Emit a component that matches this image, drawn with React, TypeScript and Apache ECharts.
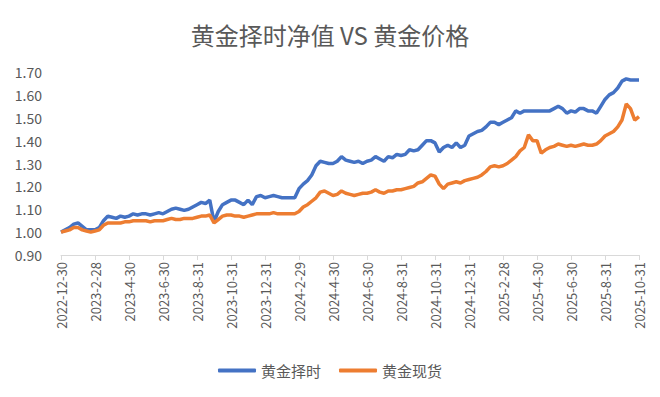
import React, { useEffect, useRef } from "react";
import * as echarts from "echarts";

const titleText = "黄金择时净值 VS 黄金价格";
const seriesNames = ["黄金择时", "黄金现货"];

const tickLabels = [
  "2022-12-30", "2023-2-28", "2023-4-30", "2023-6-30", "2023-8-31", "2023-10-31",
  "2023-12-31", "2024-2-29", "2024-4-30", "2024-6-30", "2024-8-31", "2024-10-31",
  "2024-12-31", "2025-2-28", "2025-4-30", "2025-6-30", "2025-8-31", "2025-10-31",
];
const pointsPerTick = 8;

const timingNav = [
  1.00, 1.01, 1.02, 1.035, 1.04, 1.025, 1.01, 1.01, 1.01, 1.02,
  1.05, 1.07, 1.065, 1.06, 1.07, 1.065, 1.07, 1.08, 1.075, 1.08,
  1.08, 1.075, 1.08, 1.085, 1.08, 1.09, 1.10, 1.105, 1.10, 1.095,
  1.10, 1.11, 1.12, 1.13, 1.125, 1.14, 1.045, 1.09, 1.12, 1.13,
  1.14, 1.14, 1.13, 1.12, 1.14, 1.12, 1.155, 1.16, 1.15, 1.155,
  1.16, 1.155, 1.15, 1.15, 1.15, 1.15, 1.19, 1.21, 1.225, 1.25,
  1.29, 1.31, 1.305, 1.30, 1.30, 1.31, 1.33, 1.315, 1.31, 1.305,
  1.31, 1.30, 1.31, 1.315, 1.33, 1.32, 1.31, 1.33, 1.325, 1.34,
  1.335, 1.34, 1.36, 1.355, 1.36, 1.38, 1.40, 1.40, 1.39, 1.35,
  1.37, 1.38, 1.37, 1.39, 1.37, 1.38, 1.42, 1.43, 1.44, 1.445,
  1.46, 1.48, 1.48, 1.47, 1.48, 1.49, 1.50, 1.53, 1.52, 1.53,
  1.53, 1.53, 1.53, 1.53, 1.53, 1.53, 1.54, 1.55, 1.54, 1.52,
  1.53, 1.525, 1.54, 1.54, 1.53, 1.53, 1.52, 1.55, 1.58, 1.60,
  1.61, 1.63, 1.66, 1.67, 1.665, 1.665, 1.665,
];

const goldSpot = [
  1.00, 1.005, 1.01, 1.02, 1.02, 1.01, 1.005, 1.00, 1.005, 1.01,
  1.03, 1.04, 1.04, 1.04, 1.04, 1.045, 1.045, 1.05, 1.05, 1.05,
  1.05, 1.045, 1.05, 1.05, 1.05, 1.055, 1.06, 1.055, 1.055, 1.06,
  1.06, 1.06, 1.065, 1.07, 1.07, 1.075, 1.04, 1.055, 1.07, 1.075,
  1.075, 1.07, 1.07, 1.065, 1.07, 1.075, 1.08, 1.08, 1.08, 1.08,
  1.085, 1.08, 1.08, 1.08, 1.08, 1.08, 1.09, 1.11, 1.12, 1.135,
  1.15, 1.175, 1.18, 1.17, 1.16, 1.165, 1.18, 1.17, 1.165, 1.16,
  1.165, 1.17, 1.17, 1.175, 1.185, 1.175, 1.17, 1.18, 1.18, 1.185,
  1.185, 1.19, 1.195, 1.20, 1.215, 1.22, 1.235, 1.25, 1.245, 1.21,
  1.19, 1.21, 1.215, 1.22, 1.215, 1.225, 1.23, 1.235, 1.24, 1.25,
  1.265, 1.285, 1.29, 1.285, 1.29, 1.30, 1.315, 1.33, 1.355, 1.37,
  1.425, 1.40, 1.40, 1.345, 1.36, 1.37, 1.375, 1.385, 1.38, 1.375,
  1.38, 1.375, 1.38, 1.385, 1.38, 1.38, 1.385, 1.40, 1.42, 1.43,
  1.44, 1.46, 1.49, 1.56, 1.54, 1.49, 1.505,
];

const categories = timingNav.map((_, i) =>
  i % pointsPerTick === 0 ? tickLabels[i / pointsPerTick] : String(i)
);

const textColor = "#595959";
const font = "'Noto Sans CJK SC', 'Noto Sans', sans-serif";

export default function App() {
  const ref = useRef<HTMLDivElement>(null);
  useEffect(() => {
    if (!ref.current) return;
    const chart = echarts.init(ref.current, undefined, { renderer: "svg" });
    chart.setOption({
      animation: false,
      backgroundColor: "#ffffff",
      title: {
        text: titleText,
        left: "center",
        top: 17,
        textStyle: { color: textColor, fontSize: 24, fontWeight: "normal", fontFamily: font },
      },
      legend: {
        bottom: 14,
        left: "center",
        itemWidth: 38,
        itemHeight: 4,
        itemGap: 18,
        icon: "roundRect",
        textStyle: { color: textColor, fontSize: 15, fontFamily: font },
        data: seriesNames,
      },
      grid: { left: 61, right: 21, top: 72, bottom: 142 },
      xAxis: {
        type: "category",
        data: categories,
        boundaryGap: false,
        axisLine: { lineStyle: { color: "#d9d9d9", width: 1 } },
        axisTick: {
          show: true,
          length: 5,
          interval: (i: number) => i % pointsPerTick === 0,
          lineStyle: { color: "#d9d9d9" },
        },
        axisLabel: {
          interval: (i: number) => i % pointsPerTick === 0,
          rotate: 90,
          margin: 7,
          color: textColor,
          fontSize: 13,
          fontFamily: font,
        },
        splitLine: { show: false },
      },
      yAxis: {
        type: "value",
        min: 0.9,
        max: 1.7,
        interval: 0.1,
        axisLine: { show: false },
        axisTick: { show: false },
        splitLine: { show: false },
        axisLabel: {
          color: textColor,
          fontSize: 14,
          fontFamily: font,
          margin: 19,
          formatter: (v: number) => v.toFixed(2),
        },
      },
      series: [
        {
          name: seriesNames[0],
          type: "line",
          data: timingNav,
          symbol: "none",
          lineStyle: { color: "#4472C4", width: 3.5 },
          itemStyle: { color: "#4472C4" },
        },
        {
          name: seriesNames[1],
          type: "line",
          data: goldSpot,
          symbol: "none",
          lineStyle: { color: "#ED7D31", width: 3.5 },
          itemStyle: { color: "#ED7D31" },
        },
      ],
    });
    return () => chart.dispose();
  }, []);
  return (
    <div
      style={{
        position: "absolute",
        left: 0,
        top: 0,
        width: 660,
        height: 397,
        boxSizing: "border-box",
        border: "2px solid #d9d9d9",
        background: "#fff",
      }}
    >
      <div ref={ref} style={{ position: "absolute", left: -2, top: -2, width: 660, height: 397 }} />
    </div>
  );
}
